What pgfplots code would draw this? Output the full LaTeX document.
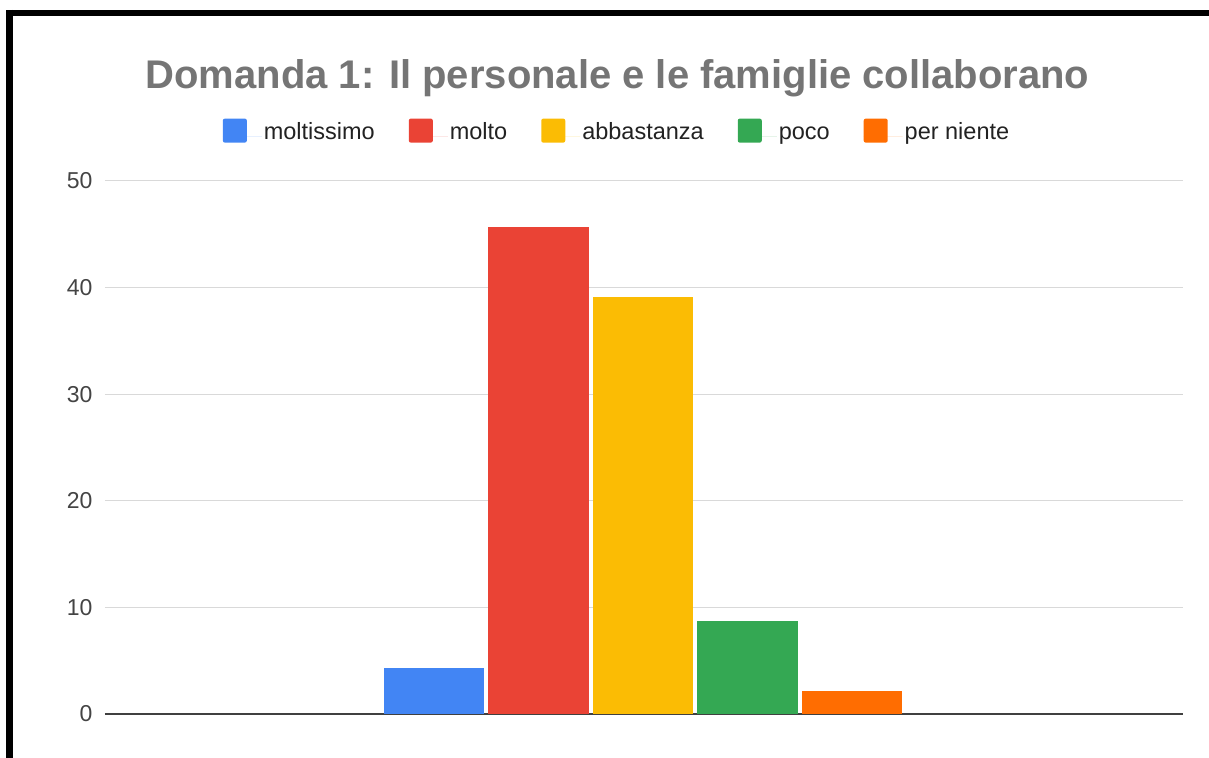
\documentclass[border=0pt]{standalone}
\usepackage{pgfplots}
\pgfplotsset{compat=1.18}
\usepackage{fontspec}
\setmainfont{Liberation Sans}
\definecolor{cblue}{HTML}{4285F4}
\definecolor{cred}{HTML}{EA4335}
\definecolor{cyellow}{HTML}{FBBC04}
\definecolor{cgreen}{HTML}{34A853}
\definecolor{corange}{HTML}{FF6D01}
\definecolor{titlegray}{HTML}{757575}
\definecolor{ticktext}{HTML}{444444}
\definecolor{legtext}{HTML}{222222}
\definecolor{gridgray}{HTML}{D9D9D9}
\begin{document}
\begin{tikzpicture}
\path[use as bounding box] (-105bp,-44bp) rectangle (1104bp,714bp);
\begin{axis}[
  at={(0,0)}, anchor=south west,
  scale only axis, width=1078bp, height=533bp,
  xmin=-5.15, xmax=5.17, ymin=0, ymax=50,
  ybar, bar width=0.96, bar shift=0pt,
  xtick=\empty, ytick={0,10,20,30,40,50},
  ymajorgrids, grid style={gridgray, line width=1bp},
  axis x line*=bottom, axis y line*=left,
  y axis line style={draw=none},
  x axis line style={draw=black!75, line width=1.5bp, -},
  tick style={draw=none},
  yticklabel style={font=\fontsize{23bp}{26bp}\selectfont, text=ticktext, xshift=-9bp},
  /pgf/number format/assume math mode=true,
  legend columns=5,
  legend style={at={(axis description cs:0.475,1.094)}, anchor=center, draw=none, fill=none,
    font=\fontsize{23.5bp}{26bp}\selectfont, text=legtext,
    nodes={text height=0.72em, text depth=0.2em},
    /tikz/every even column/.append style={column sep=32bp}},
  legend image code/.code={\fill[#1, rounded corners=2bp] (0bp,-6bp) rectangle (24bp,18bp); \path (0bp,0bp) -- (39bp,0bp);},
  title={Domanda 1: Il personale e le famiglie collaborano},
  title style={at={(axis description cs:0.4754,1.181)}, anchor=center,
    font=\fontsize{40bp}{44bp}\selectfont\bfseries, text=titlegray},
]
\addplot[fill=cblue, draw=none] coordinates {(-2,4.3)};
\addlegendentry{moltissimo}
\addplot[fill=cred, draw=none] coordinates {(-1,45.7)};
\addlegendentry{molto}
\addplot[fill=cyellow, draw=none] coordinates {(0,39.1)};
\addlegendentry{abbastanza}
\addplot[fill=cgreen, draw=none] coordinates {(1,8.7)};
\addlegendentry{poco}
\addplot[fill=corange, draw=none] coordinates {(2,2.2)};
\addlegendentry{per niente}
\end{axis}
\draw[black, line width=6bp] (-98bp,701bp) -- (1104bp,701bp);
\draw[black, line width=6.5bp] (-95.5bp,704bp) -- (-95.5bp,-44bp);
\end{tikzpicture}
\end{document}
